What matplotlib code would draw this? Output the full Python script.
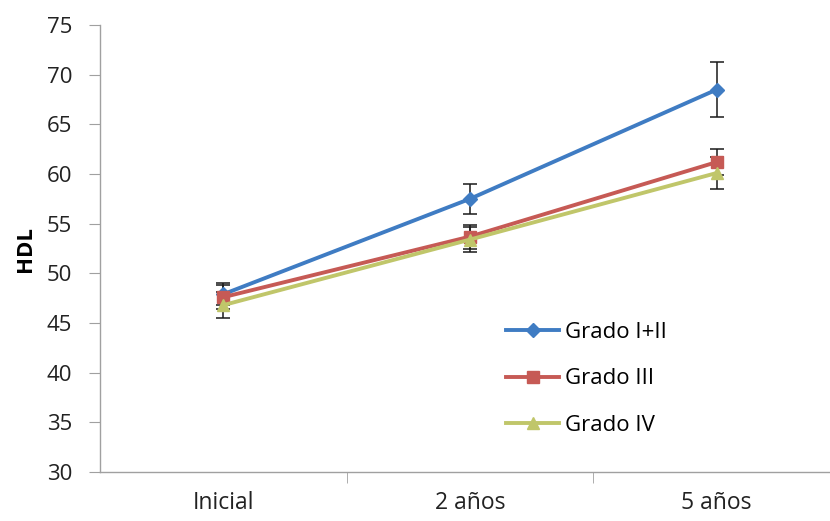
import matplotlib.pyplot as plt

# HDL values per group over follow-up
categories = ['Inicial', '2 años', '5 años']
grado_1_2 = [47.9, 57.5, 68.5]
grado_3 = [47.6, 53.7, 61.2]
grado_4 = [46.8, 53.4, 60.1]

# error bar half-widths
err_1_2 = [1.1, 1.5, 2.8]
err_3 = [1.2, 1.2, 1.3]
err_4 = [1.3, 1.3, 1.6]

plt.rcParams['font.family'] = ['Open Sans', 'DejaVu Sans']

fig = plt.figure(figsize=(8.3, 5.21), dpi=100)
ax = fig.add_axes([100 / 830, 49 / 521, 740 / 830, 447 / 521])

x = list(range(len(categories)))
series = [
    ('Grado I+II', grado_1_2, err_1_2, '#3f7cc3', 'D', 7),
    ('Grado III', grado_3, err_3, '#c65a55', 's', 9),
    ('Grado IV', grado_4, err_4, '#c0c66a', '^', 9),
]

for label, vals, err, color, marker, ms in series:
    ax.errorbar(x, vals, yerr=err, fmt='none', ecolor='#1a1a1a',
                elinewidth=1.1, capsize=5, capthick=1.1, zorder=2)
    ax.plot(x, vals, color=color, lw=2.8, marker=marker, markersize=ms,
            label=label, zorder=3)

ax.set_xlim(-0.5, 2.5)
ax.set_ylim(30, 75)
ax.set_yticks(range(30, 80, 5))
ax.set_xticks(x)
ax.set_xticklabels(categories)
ax.set_xticks([0.5, 1.5], minor=True)

for side in ['top', 'right']:
    ax.spines[side].set_visible(False)
for side in ['left', 'bottom']:
    ax.spines[side].set_color('#a0a0a0')
    ax.spines[side].set_linewidth(1)

ax.tick_params(axis='y', labelsize=16, length=8, color='#a0a0a0', pad=12,
               labelcolor='#222222')
ax.tick_params(axis='x', which='major', labelsize=16.5, length=0, pad=14,
               labelcolor='#222222')
ax.tick_params(axis='x', which='minor', length=8, color='#a0a0a0')

ax.set_ylabel('HDL', fontsize=16, fontweight='bold', labelpad=8)

ax.legend(loc='center left', bbox_to_anchor=(497 / 830, 1 - 379 / 521),
          bbox_transform=fig.transFigure, frameon=False, fontsize=16,
          labelspacing=1.15, handlelength=2.4, handletextpad=0.25,
          borderaxespad=0)

fig.savefig('out.png', dpi=100)
